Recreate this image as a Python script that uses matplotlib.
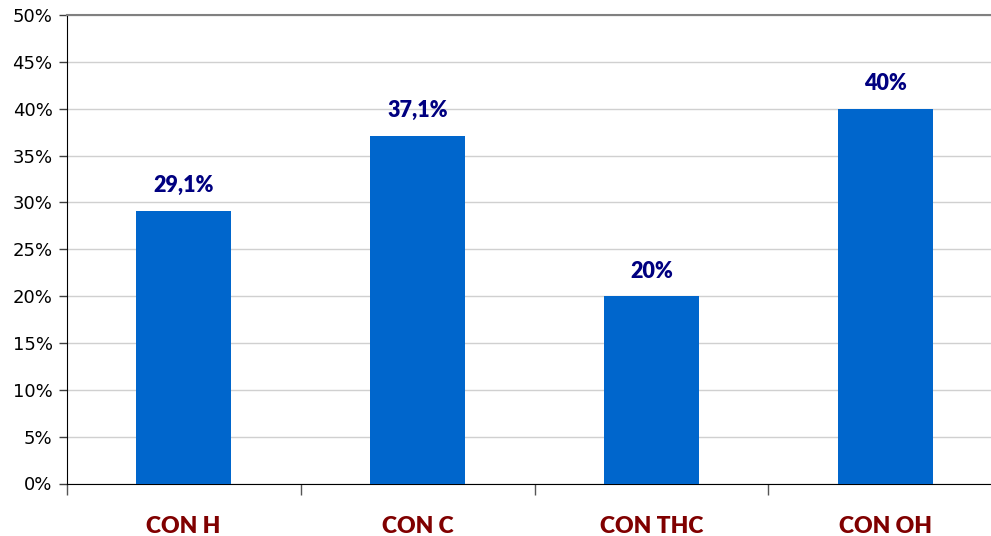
import matplotlib
matplotlib.use("Agg")
import matplotlib.pyplot as plt
from matplotlib.ticker import FuncFormatter

categories = ["CON H", "CON C", "CON THC", "CON OH"]
values = [29.1, 37.1, 20.0, 40.0]
value_labels = ["29,1%", "37,1%", "20%", "40%"]
yticks = [0, 5, 10, 15, 20, 25, 30, 35, 40, 45, 50]

plt.rcParams["font.family"] = ["DejaVu Sans"]

W, H = 991, 536
fig = plt.figure(figsize=(W / 100, H / 100), dpi=100)
ax = fig.add_axes([66.5 / W, (H - 483.5) / H, 936 / W, (483.5 - 15) / H])

x = list(range(len(categories)))
ax.bar(x, values, width=0.405, color="#0066CC", zorder=3)
ax.set_xlim(-0.5, len(categories) - 0.5)
ax.set_ylim(0, 50)

ax.set_yticks(yticks)
ax.yaxis.set_major_formatter(FuncFormatter(lambda v, p: f"{int(v)}%"))
ax.grid(axis="y", color="#D0D0D0", linewidth=1.0, zorder=0)
ax.tick_params(axis="y", length=6, width=1, color="#404040", labelsize=13, pad=4, direction="out")

# x category boundaries ticks
ax.set_xticks([i - 0.5 for i in range(len(categories) + 1)])
ax.set_xticklabels([])
ax.tick_params(axis="x", length=8, width=1, color="#555555", direction="out")
for i, c in enumerate(categories):
    ax.annotate(c, xy=(i, 0), xycoords=("data", "axes fraction"), xytext=(0, -43),
                textcoords="offset pixels", ha="center", va="center",
                fontsize=16.5, fontweight="heavy", color="#800000", family="Lato")

for i, (v, t) in enumerate(zip(values, value_labels)):
    ax.annotate(t, xy=(i, v), xytext=(0, 25), textcoords="offset pixels",
                ha="center", va="center", fontsize=15.5, fontweight="heavy",
                color="#000080", family="Lato", zorder=5)

ax.spines["right"].set_visible(False)
ax.spines["top"].set_color("#808080")
ax.spines["top"].set_linewidth(1.5)
ax.spines["left"].set_color("#000000")
ax.spines["bottom"].set_color("#000000")

fig.savefig("out.png", dpi=100)
